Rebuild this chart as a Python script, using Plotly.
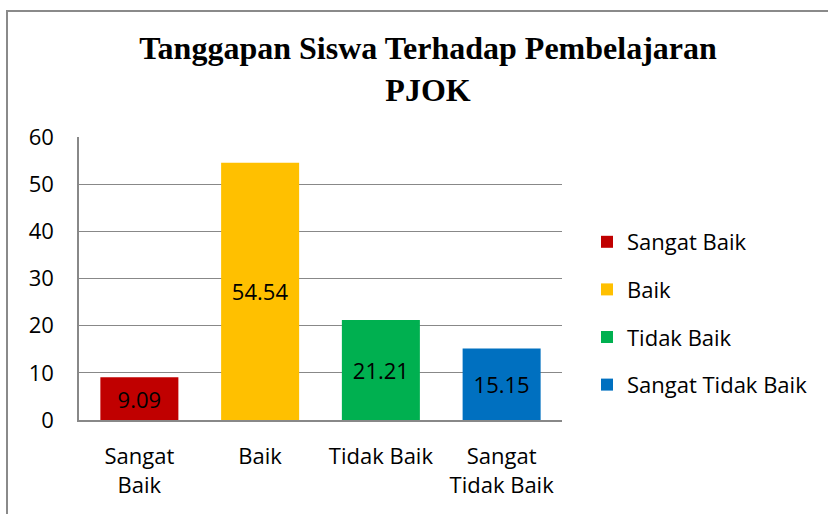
import plotly.graph_objects as go

categories = ["Sangat Baik", "Baik", "Tidak Baik", "Sangat Tidak Baik"]
tick_labels = ["Sangat<br>Baik", "Baik", "Tidak Baik", "Sangat<br>Tidak Baik"]
values = [9.09, 54.54, 21.21, 15.15]
colors = ["#C00000", "#FFC000", "#00B050", "#0070C0"]

W, H = 828, 514
L, R, T, B = 79, 562, 137, 420

fig = go.Figure()
for i, (cat, val, col) in enumerate(zip(categories, values, colors)):
    fig.add_trace(go.Bar(
        x=[cat], y=[val], name=cat, marker_color=col, marker_line_width=0,
        text=[f"{val:.2f}"], textposition="inside", insidetextanchor="middle",
        textangle=0, constraintext="none",
        textfont=dict(color="black", size=22, family="Open Sans"),
        legendgroup=f"g{i}",
    ))

def px_x(p):
    return (p - L) / (R - L)

def px_y(p):
    return (B - p) / (B - T)

fig.update_layout(
    width=W, height=H,
    margin=dict(l=L, r=W - R, t=T, b=H - B),
    paper_bgcolor="white", plot_bgcolor="white",
    barmode="overlay", bargap=0.354,
    title=dict(text="<b>Tanggapan Siswa Terhadap Pembelajaran<br>PJOK</b>",
               x=(140 + 716) / 2 / W, xanchor="center", y=1 - 59 / H, yanchor="top",
               font=dict(family="Liberation Serif", size=32, color="black")),
    font=dict(family="Open Sans", size=22, color="black"),
    legend=dict(x=px_x(587), xanchor="left", y=px_y(221), yanchor="top",
                font=dict(size=22, family="Open Sans", color="black"),
                tracegroupgap=16, itemwidth=30, bgcolor="rgba(0,0,0,0)"),
    xaxis=dict(tickvals=categories, ticktext=tick_labels, showline=True,
               linecolor="#888888", linewidth=1.5, showgrid=False, ticks="",
               ticklabelstandoff=16, tickfont=dict(size=22)),
    yaxis=dict(range=[0, 60], dtick=10, showline=True, linecolor="#888888",
               linewidth=1.5, gridcolor="#888888", gridwidth=1.2, ticks="",
               ticklabelstandoff=19, tickfont=dict(size=22), zeroline=False),
    shapes=[dict(type="rect", xref="paper", yref="paper",
                 x0=px_x(7), x1=px_x(840), y0=px_y(530), y1=px_y(11),
                 line=dict(color="#8a8a8a", width=2), fillcolor="rgba(0,0,0,0)",
                 layer="below")],
)

fig.write_html("out.html", config={"displayModeBar": False},
               post_script="document.body.style.margin='0';")
